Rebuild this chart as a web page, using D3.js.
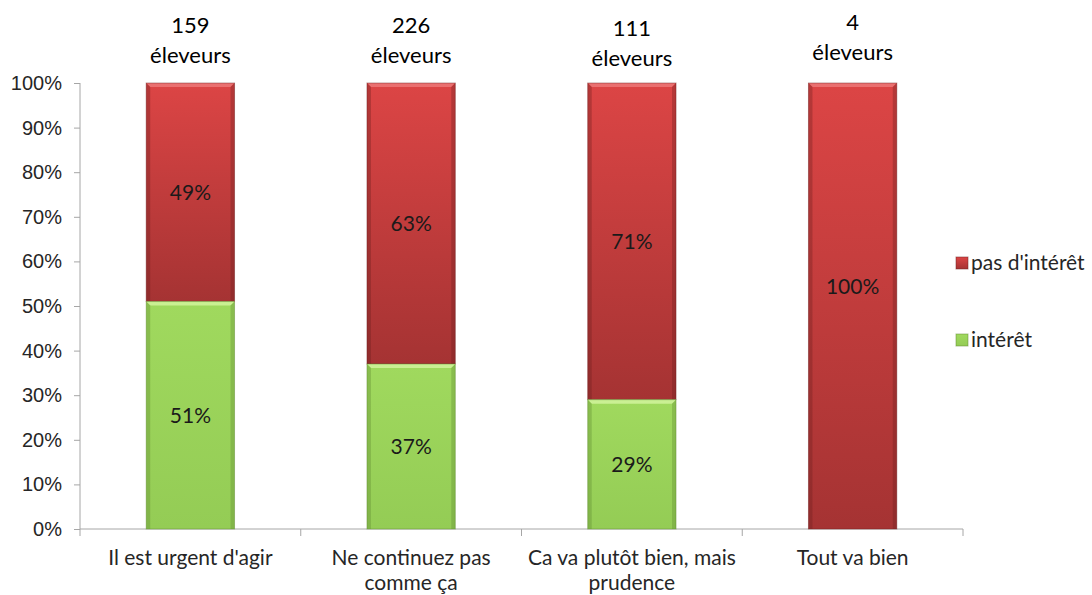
<!DOCTYPE html>
<meta charset="utf-8">
<style>
  body { margin: 0; background: #fff; }
  svg { font-family: 'Lato', 'Open Sans', sans-serif; }
  .y .domain, .x .domain { stroke: #a6a6a6; }
  .y .tick line, .x .tick line { stroke: #a6a6a6; }
  .y .tick text { font-size: 20px; fill: #262626; }
</style>
<script src="https://d3js.org/d3.v7.min.js"></script>
<div id="chart"></div>
<script>
  // data
  const categories = ["Il est urgent d'agir", "Ne continuez pas\ncomme ça", "Ca va plutôt bien, mais\nprudence", "Tout va bien"];
  const interet = [51, 37, 29, 0];
  const pasInteret = [49, 63, 71, 100];
  const eleveurs = [159, 226, 111, 4];
  const yTicks = [0, 10, 20, 30, 40, 50, 60, 70, 80, 90, 100];
  const seriesNames = ["pas d'intérêt", "intérêt"];

  // small manual label shifts (as placed in the original)
  const noteShift = [0, 0, 3, -3];
  const redLabelShift = [0, 0, 0, -19];

  const W = 1092, H = 595;
  const plot = {left: 80, right: 963, top: 83, bottom: 529};

  const svg = d3.select("#chart").append("svg")
      .attr("width", W).attr("height", H);

  const defs = svg.append("defs");
  const gRed = defs.append("linearGradient").attr("id", "gRed")
      .attr("x1", 0).attr("y1", 0).attr("x2", 0).attr("y2", 1);
  gRed.append("stop").attr("offset", "0%").attr("stop-color", "#dc4545");
  gRed.append("stop").attr("offset", "100%").attr("stop-color", "#a53333");
  const gGreen = defs.append("linearGradient").attr("id", "gGreen")
      .attr("x1", 0).attr("y1", 0).attr("x2", 0).attr("y2", 1);
  gGreen.append("stop").attr("offset", "0%").attr("stop-color", "#a0d95e");
  gGreen.append("stop").attr("offset", "100%").attr("stop-color", "#94cc55");

  const x = d3.scaleBand()
      .domain(categories)
      .range([plot.left, plot.right])
      .paddingInner(0.6)
      .paddingOuter(0.3);

  const y = d3.scaleLinear()
      .domain([0, 100])
      .range([plot.bottom, plot.top]);

  // y axis
  svg.append("g")
      .attr("class", "y")
      .attr("transform", `translate(${plot.left},0)`)
      .call(d3.axisLeft(y).tickValues(yTicks).tickSize(6).tickPadding(12)
        .tickFormat(d => d + "%").tickSizeOuter(0))
      .call(g => g.select(".domain").attr("d", `M0,${plot.top}V${plot.bottom + 7}`));

  // x axis: ticks sit between the categories
  const bounds = d3.range(categories.length + 1).map(i => plot.left + i * x.step());
  const xg = svg.append("g").attr("class", "x");
  xg.append("path").attr("class", "domain")
      .attr("d", `M${plot.left},${plot.bottom}H${plot.right}`)
      .attr("fill", "none");
  xg.selectAll("line.sep").data(bounds.slice(1)).join("line")
      .attr("x1", d => d).attr("x2", d => d)
      .attr("y1", plot.bottom).attr("y2", plot.bottom + 7)
      .attr("stroke", "#a6a6a6");

  xg.selectAll("text.cat").data(categories).join("text")
      .attr("class", "cat")
      .attr("text-anchor", "middle")
      .attr("font-size", 21)
      .attr("fill", "#262626")
      .attr("x", d => x(d) + x.bandwidth() / 2)
      .attr("y", 565)
      .each(function(d) {
        const t = d3.select(this);
        d.split("\n").forEach((line, i) => {
          t.append("tspan").attr("x", x(d) + x.bandwidth() / 2)
            .attr("dy", i === 0 ? 0 : 25).text(line);
        });
      });

  // stacked segments
  const rows = categories.map((c, i) => ({cat: c, i: i, green: interet[i], red: pasInteret[i]}));

  function bevelBar(g, x0, w, yTop, yBot, base, light, dark) {
    const h = yBot - yTop;
    if (h <= 0) return;
    g.append("rect").attr("x", x0).attr("y", yTop).attr("width", w).attr("height", h)
        .attr("fill", base);
    const b = Math.min(4, h / 2);
    // top bevel
    g.append("path")
        .attr("d", `M${x0},${yTop}H${x0 + w}L${x0 + w - b},${yTop + b}H${x0 + b}Z`)
        .attr("fill", light).attr("opacity", 0.8);
    // side shading
    g.append("path")
        .attr("d", `M${x0},${yTop}L${x0 + b},${yTop + b}V${yBot}H${x0}Z`)
        .attr("fill", dark).attr("opacity", 0.35);
    g.append("path")
        .attr("d", `M${x0 + w},${yTop}L${x0 + w - b},${yTop + b}V${yBot}H${x0 + w}Z`)
        .attr("fill", dark).attr("opacity", 0.35);
    g.append("rect").attr("x", x0).attr("y", yTop).attr("width", w).attr("height", h)
        .attr("fill", "none").attr("stroke", dark).attr("stroke-opacity", 0.45).attr("stroke-width", 1);
  }

  const bars = svg.append("g");
  rows.forEach(r => {
    const g = bars.append("g");
    const bx = x(r.cat), bw = x.bandwidth();
    bevelBar(g, bx, bw, y(r.green + r.red), y(r.green), "url(#gRed)", "#ee7a7a", "#6e1f1f");
    bevelBar(g, bx, bw, y(r.green), y(0), "url(#gGreen)", "#d4f5a0", "#5f8a30");
  });

  // segment labels
  const lab = svg.append("g").attr("font-size", 21).attr("fill", "#1a1a1a").attr("text-anchor", "middle");
  rows.forEach(r => {
    const cx = x(r.cat) + x.bandwidth() / 2;
    if (r.red > 0) {
      lab.append("text").attr("x", cx)
          .attr("y", y(r.green + r.red / 2) + redLabelShift[r.i])
          .attr("dy", "0.35em").text(r.red + "%");
    }
    if (r.green > 0) {
      lab.append("text").attr("x", cx)
          .attr("y", y(r.green / 2))
          .attr("dy", "0.35em").text(r.green + "%");
    }
  });

  // counts above bars
  const notes = svg.append("g").attr("font-size", 22).attr("fill", "#000").attr("text-anchor", "middle");
  rows.forEach(r => {
    const cx = x(r.cat) + x.bandwidth() / 2;
    notes.append("text").attr("x", cx).attr("y", 33 + noteShift[r.i]).text(eleveurs[r.i]);
    notes.append("text").attr("x", cx).attr("y", 63 + noteShift[r.i]).text("éleveurs");
  });

  // legend
  const legendFill = ["url(#gRed)", "url(#gGreen)"];
  const legendY = [263, 340];
  const leg = svg.append("g");
  seriesNames.forEach((s, i) => {
    leg.append("rect").attr("x", 956).attr("y", legendY[i] - 6).attr("width", 12).attr("height", 12)
        .attr("fill", legendFill[i]).attr("stroke", i === 0 ? "#6e1f1f" : "#5f8a30").attr("stroke-opacity", 0.5);
    leg.append("text").attr("x", 971).attr("y", legendY[i]).attr("dy", "0.35em")
        .attr("font-size", 21).attr("fill", "#262626").text(s);
  });
</script>
